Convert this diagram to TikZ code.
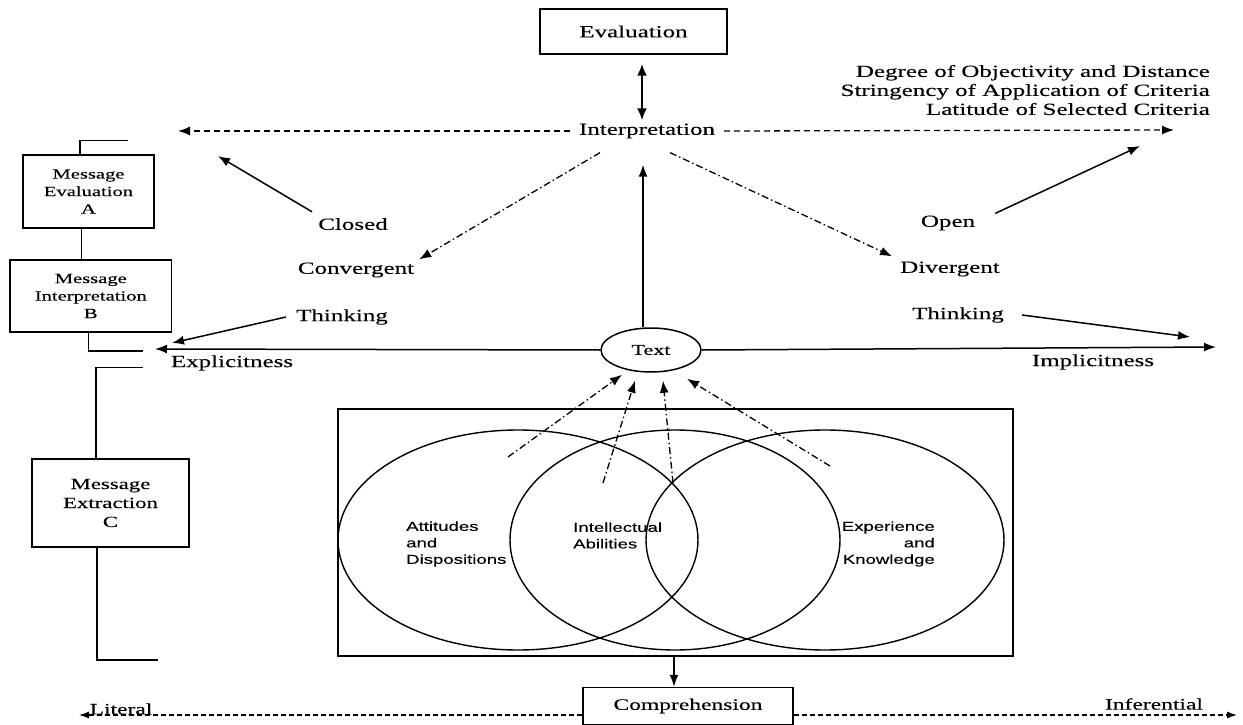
\documentclass[tikz,border=0pt]{standalone}
\usepackage{fontspec}
\setmainfont[FakeStretch=1.47,FakeBold=0.2]{Liberation Serif}
\newfontfamily\vennfont[FakeStretch=1.43,FakeBold=0.15]{Liberation Sans}
\usetikzlibrary{arrows.meta,shapes.geometric}
\newcommand{\fsz}[2]{\fontsize{#1}{#2}\selectfont}
\begin{document}
\begin{tikzpicture}[x=1pt,y=-1pt,
  every node/.style={inner sep=1pt},
  lbl/.style={font=\fsz{17}{19}},
  boxlbl/.style={draw, line width=1.5pt, align=center, inner sep=0pt},
  arr/.style={line width=1.5pt, -{Latex[length=12pt,width=9pt]}},
  dsh/.style={line width=1.3pt, dash pattern=on 6pt off 4pt, -{Latex[length=12pt,width=9pt]}},
  dshb/.style={line width=1.2pt, dash pattern=on 5pt off 3pt, -{Latex[length=10pt,width=7pt]}},
  dda/.style={line width=1.3pt, dash pattern=on 7pt off 3pt on 1.5pt off 3pt, -{Latex[length=12pt,width=9pt]}},
  brk/.style={line width=1.5pt},
  vring/.style={draw, ellipse, line width=1.4pt, inner sep=0pt},
  vlbl/.style={font=\vennfont\fsz{13}{16.5}},
]
\fill[white] (0,0) rectangle (1243,725);
\useasboundingbox (0,0) rectangle (1243,725);

% top
\node[boxlbl, lbl, minimum width=187pt, minimum height=45pt] (eval) at (633.5,31.5) {Evaluation};
\node[lbl, inner xsep=9pt] (interp) at (647,131) {Interpretation};
\node[lbl, align=right, anchor=east] (crit) at (1211,90) {Degree of Objectivity and Distance\\Stringency of Application of Criteria\\Latitude of Selected Criteria};

% thinking labels
\node[lbl] (closed) at (353,224) {Closed};
\node[lbl] (conv) at (356,270) {Convergent};
\node[lbl] (thinkL) at (342,317) {Thinking};
\node[lbl] (open) at (948,223) {Open};
\node[lbl] (div) at (950,269) {Divergent};
\node[lbl] (thinkR) at (958,315) {Thinking};
\node[lbl] (expl) at (232,363) {Explicitness};
\node[lbl] (impl) at (1093,362) {Implicitness};

% text ellipse
\node[draw, ellipse, line width=1.5pt, minimum width=100pt, minimum height=44pt, inner sep=0pt, font=\fsz{15}{16}] (txt) at (651,350) {Text};

% left boxes
\node[boxlbl, font=\fsz{14}{17.5}, minimum width=131pt, minimum height=73pt] (bA) at (88.5,191.5) {Message\\Evaluation\\A};
\node[boxlbl, font=\fsz{14}{17.5}, minimum width=161.5pt, minimum height=72pt] (bB) at (90.8,296) {Message\\Interpretation\\B};
\node[boxlbl, font=\fsz{15.5}{19}, minimum width=157pt, minimum height=88pt] (bC) at (110.5,503) {Message\\Extraction\\C};

% venn
\node[draw, line width=1.6pt, minimum width=675pt, minimum height=247pt, inner sep=0pt] (venn) at (675.5,532.5) {};
\node[vring, minimum width=360pt, minimum height=220pt] (eL) at (518,540) {};
\node[vring, minimum width=330pt, minimum height=220pt] (eM) at (675,540) {};
\node[vring, minimum width=358pt, minimum height=220pt] (eR) at (825,540) {};
\node[vlbl, align=left, anchor=west] (att) at (405,544) {Attitudes\\and\\Dispositions};
\node[vlbl, align=left, anchor=west] (intel) at (572,535.5) {Intellectual\\Abilities};
\node[vlbl, align=right, anchor=east] (exp) at (936,544) {Experience\\and\\Knowledge};

% comprehension
\node[boxlbl, font=\fsz{16}{19}, minimum width=210pt, minimum height=37pt] (comp) at (688,706) {Comprehension};
\node[font=\fsz{16}{19}] (lit) at (121,709) {Literal};
\node[font=\fsz{16}{19}] (inf) at (1154,704) {Inferential};

% coordinates
\coordinate (dl) at (178,131);
\coordinate (dr) at (1174,130);
\coordinate (ctip) at (218,156);
\coordinate (tLtip) at (172,343);
\coordinate (otip) at (1140,146);
\coordinate (tRtip) at (1190,337);
\coordinate (exTip) at (155,349);
\coordinate (imTip) at (1216,347);
\coordinate (s1) at (508,457);
\coordinate (s2) at (603,483);
\coordinate (s3) at (673,483);
\coordinate (s4) at (830,466);
\coordinate (litTip) at (79,715);
\coordinate (infTip) at (1237,715);

% connectors
\draw[line width=2.2pt, {Latex[length=12pt,width=10pt]}-{Latex[length=12pt,width=10pt]}] ([xshift=8.5pt,yshift=-9pt]eval.south) -- ([xshift=-5pt,yshift=2pt]interp.north);
\draw[dsh] (interp.west) -- (dl);
\draw[dsh] (interp.east) -- (dr);
\draw[arr] ([xshift=-5pt,yshift=5pt]closed.north west) -- (ctip);
\draw[arr] ([xshift=-9pt]thinkL.west) -- (tLtip);
\draw[dda] ([xshift=-47pt,yshift=-13pt]interp.south) -- ([xshift=4pt,yshift=2pt]conv.north east);
\draw[dda] ([xshift=23pt,yshift=-13pt]interp.south) -- ([xshift=-7pt,yshift=4pt]div.north west);
\draw[arr] ([xshift=19pt,yshift=1pt]open.north east) -- (otip);
\draw[arr] ([xshift=17pt]thinkR.east) -- (tRtip);
\draw[arr] ([xshift=-8pt]txt.north) -- ([xshift=-4pt,yshift=-25pt]interp.south);
\draw[arr] (txt.west) -- (exTip);
\draw[arr] (txt.east) -- (imTip);

\draw[dda] (s1) -- ([xshift=-29pt,yshift=-2pt]txt.south);
\draw[dda] (s2) -- ([xshift=-16pt,yshift=-8pt]txt.south);
\draw[dda] (s3) -- ([xshift=12pt,yshift=-8pt]txt.south);
\draw[dda] (s4) -- ([xshift=36pt,yshift=-6pt]txt.south);

\draw[arr] ([xshift=-1.5pt]venn.south) -- ([xshift=-1.5pt]venn.south |- comp.north);
\draw[dshb] ([yshift=-9pt]comp.west) -- (litTip);
\draw[dshb] ([yshift=-9pt]comp.east) -- (infTip);

% bracket lines
\draw[brk] ([xshift=-8.5pt]bA.north) |- ++(48,-14);
\draw[brk] ([xshift=-7pt]bA.south) -- ([xshift=-7pt]bA.south |- bB.north);
\draw[brk] ([xshift=-2.5pt]bB.south) |- ++(55,18);
\draw[brk] ([xshift=-14.5pt]bC.north) |- ++(47,-91);
\draw[brk] ([xshift=-13.5pt]bC.south) |- ++(61,112);
\end{tikzpicture}
\end{document}
